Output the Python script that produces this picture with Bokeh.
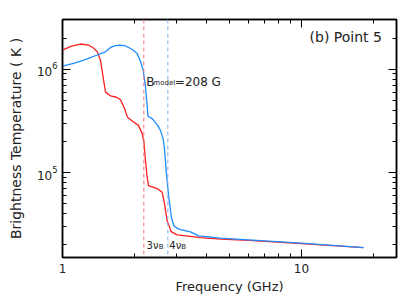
from bokeh.plotting import figure
from bokeh.models import (FixedTicker, LogAxis, Span, Label, LogTickFormatter,
                          BasicTickFormatter, CustomJSTickFormatter, LogTicker)
from bokeh.embed import file_html
from bokeh.resources import INLINE

# ---- data ----
red_freq = [1.00, 1.09, 1.19, 1.285, 1.348, 1.401, 1.442, 1.477, 1.513, 1.588, 1.683, 1.748,
            1.817, 1.871, 1.963, 2.080, 2.156, 2.193, 2.225, 2.257, 2.290, 2.490, 2.614,
            2.672, 2.742, 2.850, 3.019, 3.779, 4.583, 6.00, 10.0, 18.2]
red_tb = [1.53e6, 1.67e6, 1.75e6, 1.71e6, 1.60e6, 1.46e6, 1.22e6, 8.55e5, 6.03e5, 5.51e5,
          5.35e5, 5.06e5, 4.18e5, 3.42e5, 3.13e5, 2.86e5, 2.38e5, 1.96e5, 1.31e5, 9.36e4,
          7.48e4, 7.0e4, 6.44e4, 5.0e4, 3.42e4, 2.69e4, 2.50e4, 2.35e4, 2.27e4, 2.21e4,
          2.06e4, 1.88e4]

blue_freq = [1.00, 1.112, 1.228, 1.397, 1.513, 1.588, 1.666, 1.737, 1.817, 1.894, 1.972,
             2.054, 2.121, 2.177, 2.225, 2.257, 2.279, 2.373, 2.504, 2.570, 2.638, 2.672,
             2.716, 2.785, 2.858, 2.922, 3.066, 3.433, 3.718, 4.583, 6.00, 10.0, 18.2]
blue_tb = [1.07e6, 1.14e6, 1.22e6, 1.37e6, 1.47e6, 1.62e6, 1.69e6, 1.71e6, 1.69e6, 1.62e6,
           1.53e6, 1.42e6, 1.18e6, 9.78e5, 6.73e5, 4.68e5, 3.50e5, 3.32e5, 2.86e5, 2.56e5,
           2.12e5, 1.71e5, 1.04e5, 5.76e4, 3.68e4, 3.06e4, 2.84e4, 2.67e4, 2.44e4, 2.32e4,
           2.24e4, 2.08e4, 1.88e4]

harm3_freq = 2.19   # 3 nu_B (GHz)
harm4_freq = 2.76   # 4 nu_B (GHz)
b_model_text = "=208  G"
panel_text = "(b)  Point 5"

x_major = [1, 10]
x_minor = [2, 3, 4, 5, 6, 7, 8, 9, 20]
y_major = [1e5, 1e6]
y_minor = [2e4, 3e4, 4e4, 5e4, 6e4, 7e4, 8e4, 9e4,
           2e5, 3e5, 4e5, 5e5, 6e5, 7e5, 8e5, 9e5, 2e6, 3e6]

FONT = "DejaVu Sans"

p = figure(width=415, height=297, x_axis_type="log", y_axis_type="log",
           x_range=(1, 25), y_range=(1.51e4, 3.02e6),
           output_backend="svg", toolbar_location=None,
           min_border_left=62, min_border_right=19, min_border_top=19, min_border_bottom=40)
p.xgrid.visible = False
p.ygrid.visible = False
p.outline_line_color = "black"
p.outline_line_width = 1.5
p.background_fill_color = "white"
p.border_fill_color = "white"

def style_axis(ax):
    ax.axis_line_color = "black"
    ax.axis_line_width = 1.5
    ax.major_tick_in = 8
    ax.major_tick_out = 0
    ax.minor_tick_in = 4
    ax.minor_tick_out = 0
    ax.major_tick_line_color = "black"
    ax.minor_tick_line_color = "black"
    ax.major_tick_line_width = 1
    ax.minor_tick_line_width = 1
    ax.major_label_text_font = FONT
    ax.axis_label_text_font = FONT
    ax.axis_label_text_font_style = "normal"
    ax.major_label_text_color = "#222222"
    ax.axis_label_text_color = "#222222"

xa = p.xaxis[0]
xa.ticker = FixedTicker(ticks=x_major, minor_ticks=x_minor)
xa.formatter = BasicTickFormatter()
style_axis(xa)
xa.major_label_text_font_size = "12px"
xa.major_label_standoff = 6
xa.axis_label = "Frequency (GHz)"
xa.axis_label_text_font_size = "13px"
xa.axis_label_standoff = 3

ya = p.yaxis[0]
ya.ticker = FixedTicker(ticks=y_major, minor_ticks=y_minor)
ya.formatter = LogTickFormatter(ticker=LogTicker())
style_axis(ya)
ya.major_label_text_font_size = "12px"
ya.major_label_standoff = 5
ya.axis_label = "Brightness Temperature ( K )"
ya.axis_label_text_font_size = "14px"
ya.axis_label_standoff = 10

top = LogAxis(ticker=FixedTicker(ticks=x_major, minor_ticks=x_minor),
              formatter=CustomJSTickFormatter(code="return ''"))
style_axis(top)
top.major_label_standoff = 0
top.major_label_text_font_size = "2px"
p.add_layout(top, "above")
right = LogAxis(ticker=FixedTicker(ticks=y_major, minor_ticks=y_minor),
                formatter=CustomJSTickFormatter(code="return ''"))
style_axis(right)
right.major_label_standoff = 0
right.major_label_text_font_size = "2px"
p.add_layout(right, "right")

p.add_layout(Span(location=harm3_freq, dimension="height", line_color="#f07878",
                  line_dash="4 3", line_width=1))
p.add_layout(Span(location=harm4_freq, dimension="height", line_color="#80b0f0",
                  line_dash="4 3", line_width=1))

p.line(red_freq, red_tb, line_color="#ff2020", line_width=1.3)
p.line(blue_freq, blue_tb, line_color="#1e8cff", line_width=1.3)

p.add_layout(Label(x=22.68, y=2.05e6, text=panel_text, text_align="right",
                   text_baseline="middle", text_font=FONT, text_font_size="14px",
                   text_color="#222222"))

bmy = 7.54e5
p.add_layout(Label(x=harm3_freq, y=bmy, x_offset=2.5, text="B", text_font=FONT,
                   text_font_size="12px", text_baseline="alphabetic", text_color="#222222"))
p.add_layout(Label(x=harm3_freq, y=bmy, x_offset=9.5, y_offset=-1.6, text="model", text_font=FONT,
                   text_font_size="7px", text_baseline="alphabetic",
                   text_color="#222222"))
p.add_layout(Label(x=harm3_freq, y=bmy, x_offset=31, text=b_model_text, text_font=FONT,
                   text_font_size="12px", text_baseline="alphabetic", text_color="#222222"))

hy = 1.955e4
for fx, num, off, sub_off in ((harm3_freq, "3", 2.7, 15), (harm4_freq, "4", 1.5, 13.5)):
    p.add_layout(Label(x=fx, y=hy, x_offset=off, text=num + "\u03bd", text_font=FONT,
                       text_font_size="10px", text_baseline="alphabetic", text_color="#222222"))
    p.add_layout(Label(x=fx, y=hy, x_offset=sub_off, y_offset=-1, text="B", text_font=FONT,
                       text_font_size="7px", text_baseline="alphabetic", text_color="#222222"))

open("out.html", "w").write(file_html(p, INLINE))
